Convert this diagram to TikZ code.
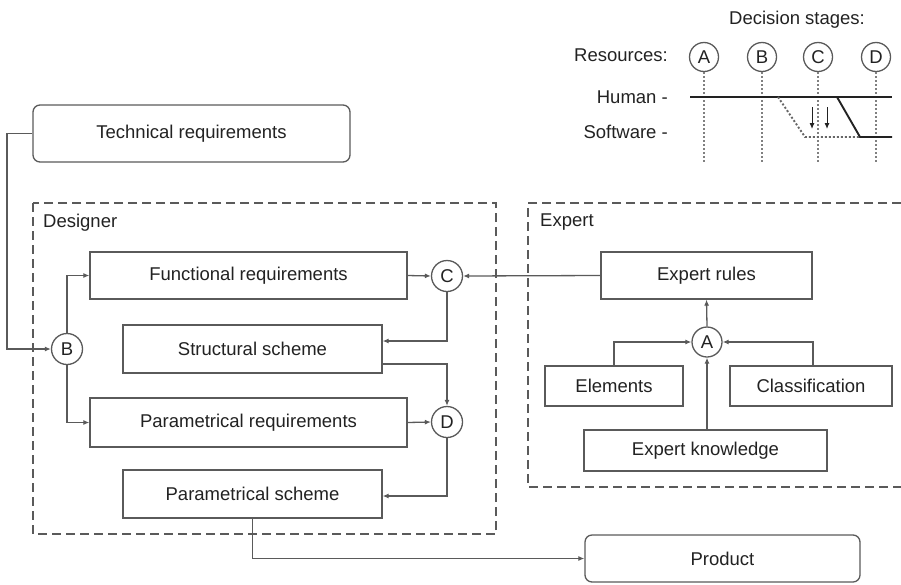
\documentclass[tikz,border=0pt]{standalone}
\usepackage{fontspec}
\setmainfont{Liberation Sans}
\usetikzlibrary{arrows.meta}
\definecolor{linecol}{HTML}{5A5A5A}
\definecolor{txtcol}{HTML}{222222}
\begin{document}
\begin{tikzpicture}[x=1pt,y=-1pt,
  every node/.style={text=txtcol, font=\fontsize{18.5}{22}\selectfont},
  box/.style={draw=linecol, line width=1.3pt, rectangle, inner sep=0pt, fill=white},
  rbox/.style={box, rounded corners=7pt},
  circ/.style={draw=linecol, line width=1.3pt, circle, minimum size=31pt, inner sep=0pt, fill=white},
  conn/.style={draw=linecol, line width=1.3pt},
  arr/.style={conn, -{Latex[length=6pt,width=5pt,fill=txtcol]}},
  dashbox/.style={draw=linecol, line width=1.4pt, dash pattern=on 9pt off 5pt},
  vdot/.style={draw=gray, line width=1.3pt, dash pattern=on 1.6pt off 2.4pt},
  lbl/.style={anchor=east, inner sep=0pt}
]
\useasboundingbox (0,0) rectangle (901,584);

% dashed regions
\draw[dashbox] (33,203) rectangle (496,534);
\draw[dashbox] (901,203) -- (528,203) -- (528,487) -- (901,487);
\node[anchor=west, inner sep=0pt] (designer) at (43,223) {Designer};
\node[anchor=west, inner sep=0pt] (expert) at (540,222) {Expert};

% nodes
\node[rbox, minimum width=317pt, minimum height=57pt] (tech) at (191.5,133.5) {Technical requirements};
\node[circ] (B) at (67,349) {B};
\node[box, minimum width=317pt, minimum height=47pt] (fr) at (248.5,275.5) {Functional requirements};
\node[box, minimum width=259pt, minimum height=48pt] (ss) at (252.5,349) {Structural scheme};
\node[box, minimum width=317pt, minimum height=49pt] (pr) at (248.5,422.5) {Parametrical requirements};
\node[box, minimum width=259pt, minimum height=48pt] (ps) at (252.5,494) {Parametrical scheme};
\node[circ] (C) at (447,276) {C};
\node[circ] (D) at (447,422) {D};
\node[rbox, minimum width=275pt, minimum height=47pt] (prod) at (722.5,558.5) {Product};

\node[box, minimum width=211pt, minimum height=47pt] (er) at (706.5,275.5) {Expert rules};
\node[circ, minimum size=30pt] (A) at (707,342) {A};
\node[box, minimum width=138pt, minimum height=40pt] (el) at (614,386) {Elements};
\node[box, minimum width=162pt, minimum height=40pt] (cl) at (811,386) {Classification};
\node[box, minimum width=243pt, minimum height=41pt] (ek) at (705.5,450.5) {Expert knowledge};

% connectors
\coordinate (tl) at (7,133.5);
\draw[arr] (tech.west) -- (tl) |- (B.west);
\draw[arr] (B.north) |- (fr.west);
\draw[arr] (B.south) |- (pr.west);
\draw[arr] (fr.east) -- (C.west);
\draw[arr] (er.west) -- (C.east);
\draw[arr] (C.south) |- ([yshift=8pt]ss.east);
\draw[arr] ([yshift=-15pt]ss.east) -| (D.north);
\draw[arr] (pr.east) -- (D.west);
\draw[arr] (D.south) |- ([yshift=-2pt]ps.east);
\draw[arr] (ps.south) |- (prod.west);
\draw[arr] (A.north) -- (er.south);
\draw[arr] (el.north) |- (A.west);
\draw[arr] ([xshift=2pt]cl.north) |- (A.east);
\draw[arr] ([xshift=1.5pt]ek.north) -- (A.south);

% legend
\node (ds) at (797,20) {Decision stages:};
\node[lbl] (res) at (668,55) {Resources:};
\node[lbl] (hum) at (668,97) {Human -};
\node[lbl] (sw) at (668,132) {Software -};
\node[circ, minimum size=29pt] (lA) at (704,57) {A};
\node[circ, minimum size=29pt] (lB) at (762,57) {B};
\node[circ, minimum size=29pt] (lC) at (818,57) {C};
\node[circ, minimum size=29pt] (lD) at (876,57) {D};
\coordinate (eA) at (704,163);
\coordinate (eB) at (762,163);
\coordinate (eC) at (818,163);
\coordinate (eD) at (876,163);
\draw[vdot] (lA.south) -- (eA);
\draw[vdot] (lB.south) -- (eB);
\draw[vdot] (lC.south) -- (eC);
\draw[vdot] (lD.south) -- (eD);
\coordinate (h0) at (690,97);
\coordinate (h1) at (892,97);
\coordinate (hs) at (837,97);
\coordinate (sd) at (860,137);
\coordinate (s1) at (892,137);
\coordinate (ho) at (778,97);
\coordinate (so) at (805,137);
\draw[txtcol, line width=1.9pt] (h0) -- (h1);
\draw[txtcol, line width=1.9pt] (hs) -- (sd) -- (s1);
\draw[gray!80!black, line width=1.9pt, dash pattern=on 2pt off 2pt] (ho) -- (so) -- (sd);
\coordinate (a1s) at (812,107);
\coordinate (a1e) at (812,129);
\coordinate (a2s) at (827,107);
\coordinate (a2e) at (827,129);
\draw[txtcol, line width=1pt, -{Latex[length=6pt,width=5pt]}] (a1s) -- (a1e);
\draw[txtcol, line width=1pt, -{Latex[length=6pt,width=5pt]}] (a2s) -- (a2e);
\end{tikzpicture}
\end{document}
